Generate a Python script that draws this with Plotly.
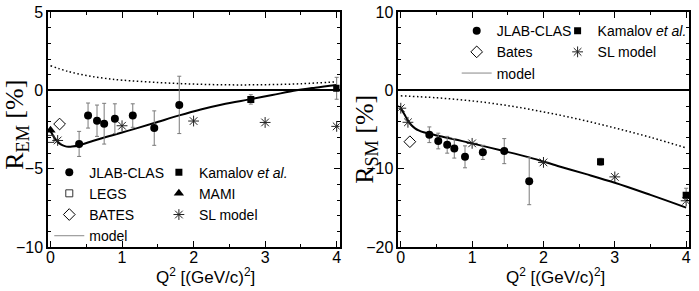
import plotly.graph_objects as go

# ---------------- data ----------------
clas_q2 = [0.40, 0.525, 0.65, 0.75, 0.90, 1.15, 1.45, 1.80]
clas_rem = [-3.42, -1.61, -1.94, -2.13, -1.81, -1.61, -2.41, -0.93]
clas_rem_err = [0.8, 0.8, 1.0, 1.3, 0.95, 0.75, 1.1, 1.83]
clas_rsm = [-5.67, -6.47, -6.95, -7.41, -8.49, -7.92, -7.76, -11.6]
clas_rsm_err = [1.0, 1.0, 1.07, 1.24, 1.4, 0.9, 1.6, 3.0]

kam_q2 = [2.8, 4.0]
kam_rem = [-0.58, 0.13]
kam_rem_err = [0.3, 0.7]
kam_rsm = [-9.13, -13.4]
kam_rsm_err = [0.45, 0.9]

legs_q2 = [0.0]
legs_rem = [-3.1]

bates_q2 = [0.127]
bates_rem = [-2.15]
bates_rsm = [-6.56]

mami_q2 = [0.0]
mami_rem = [-2.55]

sl_rem_q2 = [0.1, 1.0, 2.0, 3.0, 4.0]
sl_rem = [-3.2, -2.26, -1.96, -2.05, -2.3]
sl_rsm_q2 = [0.0, 0.1, 1.0, 2.0, 3.0, 4.0]
sl_rsm = [-2.28, -4.08, -6.77, -9.2, -11.05, -14.1]

model_rem_q2 = [0, 0.05, 0.1, 0.15, 0.2, 0.25, 0.3, 0.4, 0.6, 0.8, 1.0, 1.2,
                1.45, 1.8, 2.1, 2.4, 2.8, 3.1, 3.44, 3.7, 4.0]
model_rem = [-2.6, -3.0, -3.3, -3.47, -3.56, -3.6, -3.59, -3.5, -3.22, -2.95,
             -2.69, -2.43, -2.09, -1.6, -1.22, -0.9, -0.56, -0.3, 0.0, 0.17, 0.34]
dot_rem_q2 = [0, 0.25, 0.5, 0.75, 1.0, 1.5, 2.0, 2.5, 3.0, 3.5, 4.0]
dot_rem = [1.57, 1.2, 0.95, 0.77, 0.65, 0.5, 0.4, 0.35, 0.36, 0.42, 0.55]

model_rsm_q2 = [0, 0.05, 0.1, 0.15, 0.2, 0.25, 0.32, 0.4, 0.6, 0.8, 1.0, 1.4,
                1.8, 2.2, 2.6, 3.0, 3.5, 4.0]
model_rsm = [-2.3, -3.05, -3.87, -4.45, -4.85, -5.12, -5.36, -5.55, -5.95, -6.35,
             -6.77, -7.65, -8.56, -9.65, -10.7, -11.8, -13.35, -14.97]
dot_rsm_q2 = [0, 0.5, 1.0, 1.5, 2.0, 2.5, 3.0, 3.5, 4.0]
dot_rsm = [-0.7, -0.95, -1.35, -1.95, -2.75, -3.7, -4.8, -6.0, -7.35]

x_ticks = [0, 1, 2, 3, 4]

# ---------------- figure ----------------
SANS = "Liberation Sans, Arial, sans-serif"
LEGF = dict(family="Liberation Sans Narrow, Liberation Sans, Arial", size=14, color="black")
ERRC = "#7a7a7a"
DOTS = "1.5px,2.5px"

fig = go.Figure()

def err(arr):
    return dict(type="data", array=arr, visible=True, color=ERRC, thickness=1, width=2)

STAR = dict(symbol="asterisk-open", size=9, color="#222", line=dict(color="#222", width=1))

# ----- left panel -----
fig.add_trace(go.Scatter(x=dot_rem_q2, y=dot_rem, mode="lines", line=dict(color="black", width=1.5, dash=DOTS, shape="spline"),
                         showlegend=False, xaxis="x", yaxis="y", hoverinfo="skip"))
fig.add_trace(go.Scatter(x=model_rem_q2, y=model_rem, mode="lines", line=dict(color="black", width=2, shape="spline"),
                         showlegend=False, xaxis="x", yaxis="y"))
fig.add_trace(go.Scatter(x=sl_rem_q2, y=sl_rem, mode="markers", name="SL model", marker=STAR,
                         xaxis="x", yaxis="y", legend="legend2", legendrank=3))
fig.add_trace(go.Scatter(x=legs_q2, y=legs_rem, mode="markers", name="LEGS",
                         marker=dict(symbol="square-open", size=7, color="#333", line=dict(width=1)),
                         xaxis="x", yaxis="y", legend="legend", legendrank=2))
fig.add_trace(go.Scatter(x=bates_q2, y=bates_rem, mode="markers", name="BATES",
                         marker=dict(symbol="diamond-open", size=9, color="black", line=dict(width=1)),
                         xaxis="x", yaxis="y", legend="legend", legendrank=3))
fig.add_trace(go.Scatter(x=mami_q2, y=mami_rem, mode="markers", name="MAMI",
                         marker=dict(symbol="triangle-up", size=9, color="black"),
                         xaxis="x", yaxis="y", legend="legend2", legendrank=2))
fig.add_trace(go.Scatter(x=clas_q2, y=clas_rem, mode="markers", name="JLAB-CLAS",
                         marker=dict(symbol="circle", size=8, color="black"), error_y=err(clas_rem_err),
                         xaxis="x", yaxis="y", legend="legend", legendrank=1))
fig.add_trace(go.Scatter(x=kam_q2, y=kam_rem, mode="markers", name="Kamalov <i>et al.</i>",
                         marker=dict(symbol="square", size=7, color="black"), error_y=err(kam_rem_err),
                         xaxis="x", yaxis="y", legend="legend2", legendrank=1))
fig.add_trace(go.Scatter(x=[None], y=[None], mode="lines", name="model",
                         line=dict(color="#888", width=1), xaxis="x", yaxis="y",
                         legend="legend", legendrank=4))

# ----- right panel -----
fig.add_trace(go.Scatter(x=dot_rsm_q2, y=dot_rsm, mode="lines", line=dict(color="black", width=1.5, dash=DOTS, shape="spline"),
                         showlegend=False, xaxis="x2", yaxis="y2", hoverinfo="skip"))
fig.add_trace(go.Scatter(x=model_rsm_q2, y=model_rsm, mode="lines", line=dict(color="black", width=2, shape="spline"),
                         showlegend=False, xaxis="x2", yaxis="y2"))
fig.add_trace(go.Scatter(x=sl_rsm_q2, y=sl_rsm, mode="markers", name="SL model", marker=STAR,
                         xaxis="x2", yaxis="y2", legend="legend4", legendrank=2))
fig.add_trace(go.Scatter(x=bates_q2, y=bates_rsm, mode="markers", name="Bates",
                         marker=dict(symbol="diamond-open", size=9, color="black", line=dict(width=1)),
                         xaxis="x2", yaxis="y2", legend="legend3", legendrank=2))
fig.add_trace(go.Scatter(x=clas_q2, y=clas_rsm, mode="markers", name="JLAB-CLAS",
                         marker=dict(symbol="circle", size=8, color="black"), error_y=err(clas_rsm_err),
                         xaxis="x2", yaxis="y2", legend="legend3", legendrank=1))
fig.add_trace(go.Scatter(x=kam_q2, y=kam_rsm, mode="markers", name="Kamalov <i>et al.</i>",
                         marker=dict(symbol="square", size=7, color="black"), error_y=err(kam_rsm_err),
                         xaxis="x2", yaxis="y2", legend="legend4", legendrank=1))
fig.add_trace(go.Scatter(x=[None], y=[None], mode="lines", name="model",
                         line=dict(color="#888", width=1), xaxis="x2", yaxis="y2",
                         legend="legend3", legendrank=3))

# ---------------- axes ----------------
def xax(domain, anchor):
    return dict(domain=domain, anchor=anchor, range=[-0.035, 4.04], tickvals=x_ticks,
                ticks="inside", ticklen=6, tickwidth=1.2, tickcolor="black", ticklabelstandoff=-5,
                minor=dict(dtick=0.5, ticks="inside", ticklen=3, tickcolor="black", tickwidth=1),
                showline=True, linecolor="black", linewidth=1.5, mirror="allticks",
                showgrid=False, zeroline=False, tickfont=dict(family=SANS, size=16, color="black"))

def yax(rng, dtick, mdtick, anchor):
    return dict(domain=[0, 1], anchor=anchor, range=rng, dtick=dtick,
                ticks="inside", ticklen=6, tickwidth=1.2, tickcolor="black",
                minor=dict(dtick=mdtick, ticks="inside", ticklen=3, tickcolor="black", tickwidth=1),
                showline=True, linecolor="black", linewidth=1.5, mirror="allticks",
                showgrid=False, zeroline=True, zerolinecolor="black", zerolinewidth=1.5,
                tickfont=dict(family=SANS, size=16, color="black"))

leg_common = dict(bgcolor="rgba(0,0,0,0)", borderwidth=0, font=LEGF, xanchor="left", yanchor="top",
                  tracegroupgap=0, itemwidth=30, traceorder="normal")

fig.update_layout(
    width=699, height=291,
    margin=dict(l=48, r=10, t=12, b=44, autoexpand=False),
    paper_bgcolor="white", plot_bgcolor="white",
    xaxis=xax([0, 0.4548], "y"),
    yaxis=yax([-10, 5], 5, 1, "x"),
    xaxis2=xax([0.5465, 1], "y2"),
    yaxis2=yax([-20, 10], 10, 2, "x2"),
    legend=dict(x=0.002, y=0.385, **leg_common),
    legend2=dict(x=0.173, y=0.385, **leg_common),
    legend3=dict(x=0.6376, y=0.987, **leg_common),
    legend4=dict(x=0.795, y=0.987, **leg_common),
    showlegend=True,
)

TITLEF = dict(family="Liberation Serif, Times New Roman, serif", size=26, color="black")
XTF = dict(family=SANS, size=17, color="black")
fig.add_annotation(text="R<sub>EM</sub> [%]", xref="paper", yref="paper", x=-0.05, y=0.52,
                   textangle=-90, showarrow=False, font=TITLEF, xanchor="center", yanchor="middle")
fig.add_annotation(text="R<sub>SM</sub> [%]", xref="paper", yref="paper", x=0.496, y=0.46,
                   textangle=-90, showarrow=False, font=TITLEF, xanchor="center", yanchor="middle")
fig.add_annotation(text="Q<sup>2</sup> [(GeV/c)<sup>2</sup>]", xref="paper", yref="paper", x=0.245, y=-0.125,
                   showarrow=False, font=XTF, xanchor="center", yanchor="middle")
fig.add_annotation(text="Q<sup>2</sup> [(GeV/c)<sup>2</sup>]", xref="paper", yref="paper", x=0.791, y=-0.125,
                   showarrow=False, font=XTF, xanchor="center", yanchor="middle")

fig.write_html("out.html", config={"displayModeBar": False},
               post_script="document.body.style.margin='0';document.body.style.overflow='hidden';")
